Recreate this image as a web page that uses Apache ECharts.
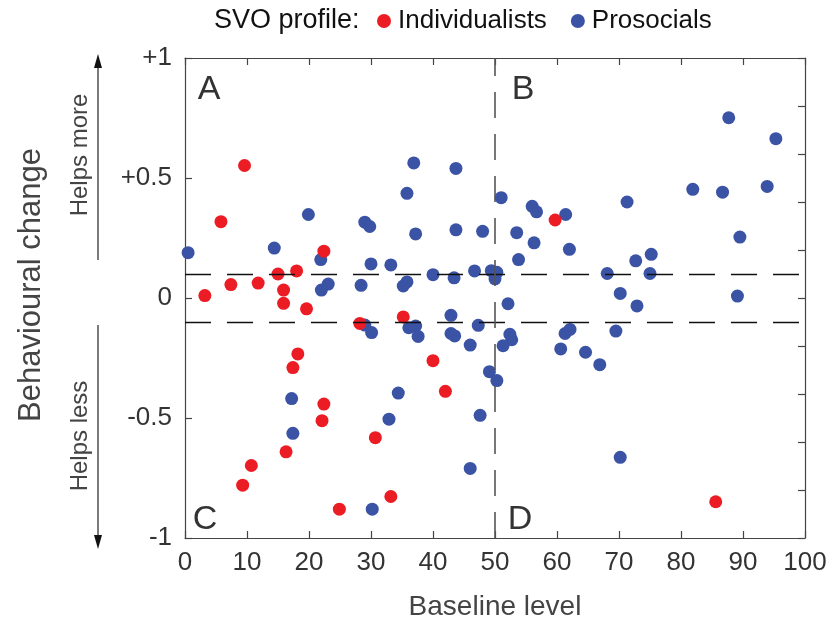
<!DOCTYPE html>
<html>
<head>
<meta charset="utf-8">
<script src="https://cdn.jsdelivr.net/npm/echarts@6/dist/echarts.min.js"></script>
<style>
  html, body { margin: 0; padding: 0; background: #fff; }
  #chart { width: 833px; height: 626px; }
</style>
</head>
<body>
<div id="chart"></div>
<script>
// baseline level (x) and behavioural change (y)
const individualistsX = [3.2, 5.8, 7.4, 9.6, 11.8, 15.0, 18.0, 15.9, 15.9, 19.6, 22.4, 28.2, 18.2, 17.4,
  22.4, 22.1, 16.3, 10.7, 9.3, 24.9, 30.7, 33.2, 35.2, 40.0, 42.0, 59.7, 85.6];
const individualistsY = [0.01, 0.318, 0.056, 0.552, 0.062, 0.10, 0.113, 0.033, -0.022, -0.045, 0.195, -0.106, -0.233, -0.29,
  -0.442, -0.511, -0.641, -0.698, -0.78, -0.88, -0.582, -0.827, -0.079, -0.261, -0.389, 0.325, -0.849];

const prosocialsX = [0.5, 14.4, 19.9, 21.9, 22.0, 23.1, 28.4, 29.0, 29.8, 30.0, 33.2, 35.2, 35.8, 35.8, 36.9, 37.2,
  40.0, 43.4, 43.7, 43.7, 46.7, 48.0, 49.4, 50.3, 50.0, 51.0, 53.5, 53.8, 56.0, 56.7, 56.3, 61.4, 62.0,
  68.1, 70.2, 71.3, 72.7, 72.9, 75.0, 75.2, 81.9, 86.7, 87.7, 89.1, 89.5, 93.9, 95.3,
  29.0, 30.1, 36.1, 37.2, 37.6, 42.9, 42.9, 43.5, 46.0, 47.3, 52.1, 52.4, 52.7, 51.3, 49.1, 50.3,
  61.3, 62.1, 60.6, 64.6, 66.9, 69.5, 70.2, 34.4, 47.6, 32.9, 46.0, 30.2, 17.2, 17.4];
const prosocialsY = [0.189, 0.208, 0.348, 0.16, 0.033, 0.058, 0.053, 0.316, 0.298, 0.142, 0.138, 0.05, 0.067, 0.436, 0.563, 0.267,
  0.097, 0.084, 0.54, 0.284, 0.113, 0.278, 0.114, 0.107, 0.08, 0.418, 0.272, 0.16, 0.382, 0.359, 0.23, 0.348, 0.203,
  0.102, 0.019, 0.40, 0.155, -0.033, 0.102, 0.182, 0.453, 0.441, 0.751, 0.008, 0.254, 0.465, 0.664,
  -0.113, -0.144, -0.124, -0.117, -0.16, -0.072, -0.148, -0.158, -0.196, -0.114, -0.024, -0.151, -0.174, -0.199, -0.307, -0.344,
  -0.148, -0.131, -0.212, -0.226, -0.278, -0.138, -0.664, -0.396, -0.489, -0.505, -0.71, -0.88, -0.419, -0.564];

const xTicks = [0, 10, 20, 30, 40, 50, 60, 70, 80, 90, 100];
const yTickValues = [-1, -0.5, 0, 0.5, 1];
const yTickLabels = ["-1", "-0.5", "0", "+0.5", "+1"];

// dashed reference lines: y = +/-0.1 and x = 50
const thresholdY = [0.1, -0.1];
const splitX = 50;

const RED = "#ec1c24";
const BLUE = "#3a53a4";
const FONT = "Liberation Sans";

let myChart = echarts.init(document.getElementById("chart"));

function pairs(xs, ys) {
  return xs.map((x, i) => [x, ys[i]]);
}

let lineCommon = { show: true, onZero: false, lineStyle: { color: "#444", width: 1.2 } };
let tickCommon = { show: true, inside: true, length: 7, lineStyle: { color: "#444", width: 1.2 } };

let option = {
  animation: false,
  textStyle: { fontFamily: FONT },
  grid: { left: 185, top: 58, width: 620, height: 490 },
  legend: {
    data: ["Individualists", "Prosocials"],
    left: 377,
    top: 8,
    padding: 0,
    icon: "circle",
    itemWidth: 14,
    itemHeight: 14,
    itemGap: 24,
    textStyle: { fontSize: 26, color: "#111", fontFamily: FONT, padding: [0, 0, 0, 2] }
  },
  xAxis: [
    {
      type: "value",
      position: "bottom",
      min: 0,
      max: 100,
      interval: 10,
      axisLine: lineCommon,
      axisTick: tickCommon,
      splitLine: { show: false },
      name: "Baseline level",
      nameLocation: "middle",
      nameGap: 55,
      nameTextStyle: { fontSize: 28, color: "#444" },
      axisLabel: { margin: 12, fontSize: 26, color: "#333", customValues: xTicks }
    },
    {
      type: "value",
      position: "top",
      min: 0,
      max: 100,
      interval: 10,
      axisLine: lineCommon,
      axisTick: tickCommon,
      splitLine: { show: false },
      axisLabel: { show: false }
    }
  ],
  yAxis: [
    {
      type: "value",
      position: "left",
      min: -1,
      max: 1,
      interval: 0.5,
      axisLine: lineCommon,
      axisTick: tickCommon,
      splitLine: { show: false },
      axisLabel: {
        margin: 13,
        fontSize: 26,
        color: "#333",
        formatter: function (v) {
          let i = yTickValues.findIndex(t => Math.abs(t - v) < 1e-6);
          return i >= 0 ? yTickLabels[i] : "";
        }
      }
    },
    {
      // right side only carries finer ticks
      type: "value",
      position: "right",
      min: -1,
      max: 1,
      interval: 0.2,
      axisLine: lineCommon,
      axisTick: tickCommon,
      splitLine: { show: false },
      axisLabel: { show: false }
    }
  ],
  series: [
    {
      name: "lines",
      type: "scatter",
      data: [],
      z: 1,
      markLine: {
        silent: true,
        symbol: "none",
        label: { show: false },
        animation: false,
        data: [
          ...thresholdY.map(v => ({
            yAxis: v,
            lineStyle: { color: "#111", width: 1.4, type: [26, 16] }
          })),
          {
            xAxis: splitX,
            lineStyle: { color: "#555", width: 1.6, type: [26, 16] }
          }
        ]
      }
    },
    {
      name: "Individualists",
      type: "scatter",
      symbolSize: 13,
      z: 3,
      itemStyle: { color: RED, opacity: 1 },
      data: pairs(individualistsX, individualistsY)
    },
    {
      name: "Prosocials",
      type: "scatter",
      symbolSize: 13,
      z: 2,
      itemStyle: { color: BLUE, opacity: 1 },
      data: pairs(prosocialsX, prosocialsY)
    }
  ],
  graphic: [
    // legend caption
    {
      type: "text",
      left: 214,
      top: 7,
      style: { text: "SVO profile:", fontSize: 27, fill: "#111", fontFamily: FONT }
    },
    // y title
    {
      type: "text",
      x: 31,
      y: 285,
      rotation: Math.PI / 2,
      style: {
        text: "Behavioural change",
        fontSize: 31,
        fill: "#444",
        fontFamily: FONT,
        align: "center",
        verticalAlign: "middle"
      }
    },
    {
      type: "text",
      x: 80,
      y: 155,
      rotation: Math.PI / 2,
      style: { text: "Helps more", fontSize: 24, fill: "#444", fontFamily: FONT, align: "center", verticalAlign: "middle" }
    },
    {
      type: "text",
      x: 80,
      y: 436,
      rotation: Math.PI / 2,
      style: { text: "Helps less", fontSize: 24, fill: "#444", fontFamily: FONT, align: "center", verticalAlign: "middle" }
    },
    // arrows
    { type: "line", shape: { x1: 98, y1: 66, x2: 98, y2: 260 }, style: { stroke: "#333", lineWidth: 1.3 } },
    { type: "polygon", shape: { points: [[98, 54], [94, 68], [102, 68]] }, style: { fill: "#111" } },
    { type: "line", shape: { x1: 98, y1: 325, x2: 98, y2: 537 }, style: { stroke: "#333", lineWidth: 1.3 } },
    { type: "polygon", shape: { points: [[98, 549], [94, 535], [102, 535]] }, style: { fill: "#111" } },
    // quadrant letters
    { type: "text", x: 209, y: 90, style: { text: "A", fontSize: 34, fill: "#333", fontFamily: FONT, align: "center", verticalAlign: "middle" } },
    { type: "text", x: 523, y: 90, style: { text: "B", fontSize: 34, fill: "#333", fontFamily: FONT, align: "center", verticalAlign: "middle" } },
    { type: "text", x: 205, y: 520, style: { text: "C", fontSize: 34, fill: "#333", fontFamily: FONT, align: "center", verticalAlign: "middle" } },
    { type: "text", x: 520, y: 520, style: { text: "D", fontSize: 34, fill: "#333", fontFamily: FONT, align: "center", verticalAlign: "middle" } }
  ]
};

myChart.setOption(option);
</script>
</body>
</html>
